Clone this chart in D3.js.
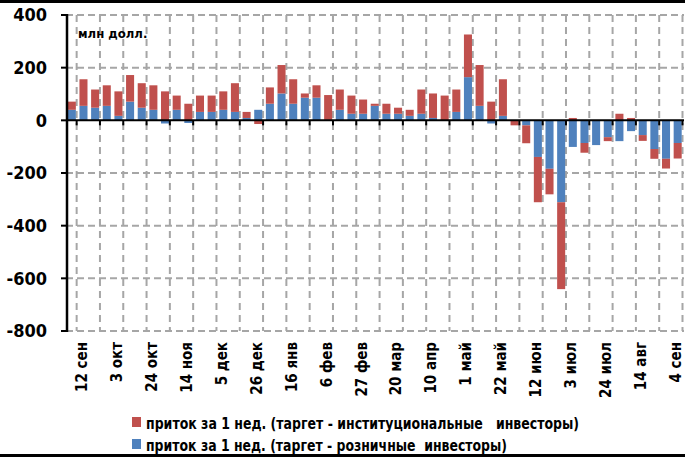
<!DOCTYPE html>
<html>
<head>
<meta charset="utf-8">
<script src="https://cdn.jsdelivr.net/npm/d3@7"></script>
<style>
  body { margin: 0; background: #fff; }
  svg text { font-family: "Liberation Sans Narrow", "DejaVu Sans Condensed", sans-serif; font-weight: bold; }
</style>
</head>
<body>
<svg id="chart" width="685" height="457"></svg>
<script>
// недели (пятница), 5 сен ... 4 сен
var weeks = ["5 сен","12 сен","19 сен","26 сен","3 окт","10 окт","17 окт","24 окт","31 окт","7 ноя",
  "14 ноя","21 ноя","28 ноя","5 дек","12 дек","19 дек","26 дек","2 янв","9 янв","16 янв",
  "23 янв","30 янв","6 фев","13 фев","20 фев","27 фев","6 мар","13 мар","20 мар","27 мар",
  "3 апр","10 апр","17 апр","24 апр","1 май","8 май","15 май","22 май","29 май","5 июн",
  "12 июн","19 июн","26 июн","3 июл","10 июл","17 июл","24 июл","31 июл","7 авг","14 авг",
  "21 авг","28 авг","4 сен"]

// приток, таргет - институциональные инвесторы
var inst = [31,101,69,78,93,101,93,93,110,54,63,62,62,70,109,23,-14,62,108,93,
  16,47,94,77,69,54,8,38,23,23,92,93,94,85,162,155,71,139,-19,-68,
  -172,-97,-330,9,-37,0,-15,25,9,-22,-37,-37,-59]

// приток, таргет - розничные инвесторы
var retail = [40,55,48,55,17,71,48,40,-12,40,-10,32,32,40,32,9,40,63,102,63,
  86,86,2,40,25,25,55,25,25,17,25,9,0,32,164,55,-12,17,0,-19,
  -139,-184,-311,-101,-86,-94,-64,-79,-41,-56,-109,-146,-86]

var tickLabels = ["12 сен","3 окт","24 окт","14 ноя","5 дек","26 дек","16 янв","6 фев","27 фев",
  "20 мар","10 апр","1 май","22 май","12 июн","3 июл","24 июл","14 авг","4 сен"]
var yTicks = [400,200,0,-200,-400,-600,-800]

var seriesNames = ["приток за 1 нед. (таргет - институциональные   инвесторы)",
  "приток за 1 нед. (таргет - розничные  инвесторы)"]
var colors = {inst: "#C0504D", retail: "#4F81BD"}

var svg = d3.select("#chart")

var rows = weeks.map(function (w, i) {
    return {week: w, retail: retail[i], inst: inst[i]}
})

var x = d3.scaleBand().domain(weeks).range([66, 683.5]).paddingInner(0.31).paddingOuter(0.155)
var step = x.step()
var left = 66
var y = d3.scaleLinear().domain([-800, 400]).range([331, 15])

// рамка сверху и снизу
svg.append("rect").attr("x", 0).attr("y", 0).attr("width", 685).attr("height", 3).attr("fill", "#000")
svg.append("rect").attr("x", 0).attr("y", 454).attr("width", 685).attr("height", 3).attr("fill", "#000")

// сетка
var grid = svg.append("g").attr("stroke", "#a6a6a6").attr("stroke-width", 2)
grid.selectAll(".hgrid")
    .data(yTicks.filter(function (d) { return d !== 0 }))
    .enter().append("line")
    .attr("x1", left).attr("x2", 684)
    .attr("y1", function (d) { return y(d) }).attr("y2", function (d) { return y(d) })
    .attr("stroke-dasharray", "7,4")

var vIdx = d3.range(1, weeks.length + 1, 2)
grid.selectAll(".vgrid")
    .data(vIdx)
    .enter().append("line")
    .attr("x1", function (d) { return left + d * step - 1 })
    .attr("x2", function (d) { return left + d * step - 1 })
    .attr("y1", y(400)).attr("y2", y(-800))
    .attr("stroke-dasharray", "7,5")

// столбцы
var stack = d3.stack().keys(["retail", "inst"]).offset(d3.stackOffsetDiverging)
var layers = stack(rows)

svg.selectAll(".layer")
    .data(layers)
    .enter().append("g")
    .attr("fill", function (d) { return colors[d.key] })
    .selectAll("rect")
    .data(function (d) { return d })
    .enter().append("rect")
    .attr("x", function (d) { return x(d.data.week) })
    .attr("width", x.bandwidth())
    .attr("y", function (d) { return y(Math.max(d[0], d[1])) })
    .attr("height", function (d) { return Math.abs(y(d[0]) - y(d[1])) })

// ось Y
var yAxis = svg.append("g")
yAxis.append("line").attr("x1", 67).attr("x2", 67).attr("y1", y(400) - 1).attr("y2", y(-800) + 1)
    .attr("stroke", "#000").attr("stroke-width", 2.5)
yAxis.selectAll(".ytick")
    .data(yTicks)
    .enter().append("line")
    .attr("x1", 61).attr("x2", 67)
    .attr("y1", function (d) { return y(d) }).attr("y2", function (d) { return y(d) })
    .attr("stroke", "#000").attr("stroke-width", 2)
yAxis.selectAll(".ylab")
    .data(yTicks)
    .enter().append("text")
    .attr("x", 47)
    .attr("y", function (d) { return y(d) })
    .attr("dy", "0.36em")
    .attr("text-anchor", "end")
    .attr("font-size", 18)
    .text(function (d) { return d })

// ось X на нуле
var xAxis = svg.append("g")
xAxis.append("line").attr("x1", 67).attr("x2", 684).attr("y1", y(0)).attr("y2", y(0))
    .attr("stroke", "#000").attr("stroke-width", 2)
xAxis.selectAll(".xtick")
    .data(vIdx)
    .enter().append("line")
    .attr("x1", function (d) { return left + d * step - 1 })
    .attr("x2", function (d) { return left + d * step - 1 })
    .attr("y1", y(0)).attr("y2", y(0) + 5)
    .attr("stroke", "#000").attr("stroke-width", 2)

xAxis.selectAll(".xlab")
    .data(tickLabels)
    .enter().append("text")
    .attr("transform", function (d) {
        var cx = x(d) + x.bandwidth() / 2 - 2
        return "translate(" + cx + ",342) rotate(-90)"
    })
    .attr("dy", "0.36em")
    .attr("text-anchor", "end")
    .attr("font-size", 15)
    .text(function (d) { return d })

// единицы
svg.append("text").attr("x", 78).attr("y", 38).attr("font-size", 13).text("млн долл.")

// легенда
var legend = svg.append("g")
var legKeys = ["inst", "retail"]
var legWidths = [433, 361]
legKeys.forEach(function (k, i) {
    legend.append("rect").attr("x", 132).attr("y", 417 + i * 22).attr("width", 9).attr("height", 10)
        .attr("fill", colors[k])
    legend.append("text").attr("x", 146).attr("y", 429 + i * 22)
        .attr("font-size", 16)
        .attr("textLength", legWidths[i])
        .attr("lengthAdjust", "spacingAndGlyphs")
        .style("white-space", "pre")
        .text(seriesNames[i])
})
</script>
</body>
</html>
